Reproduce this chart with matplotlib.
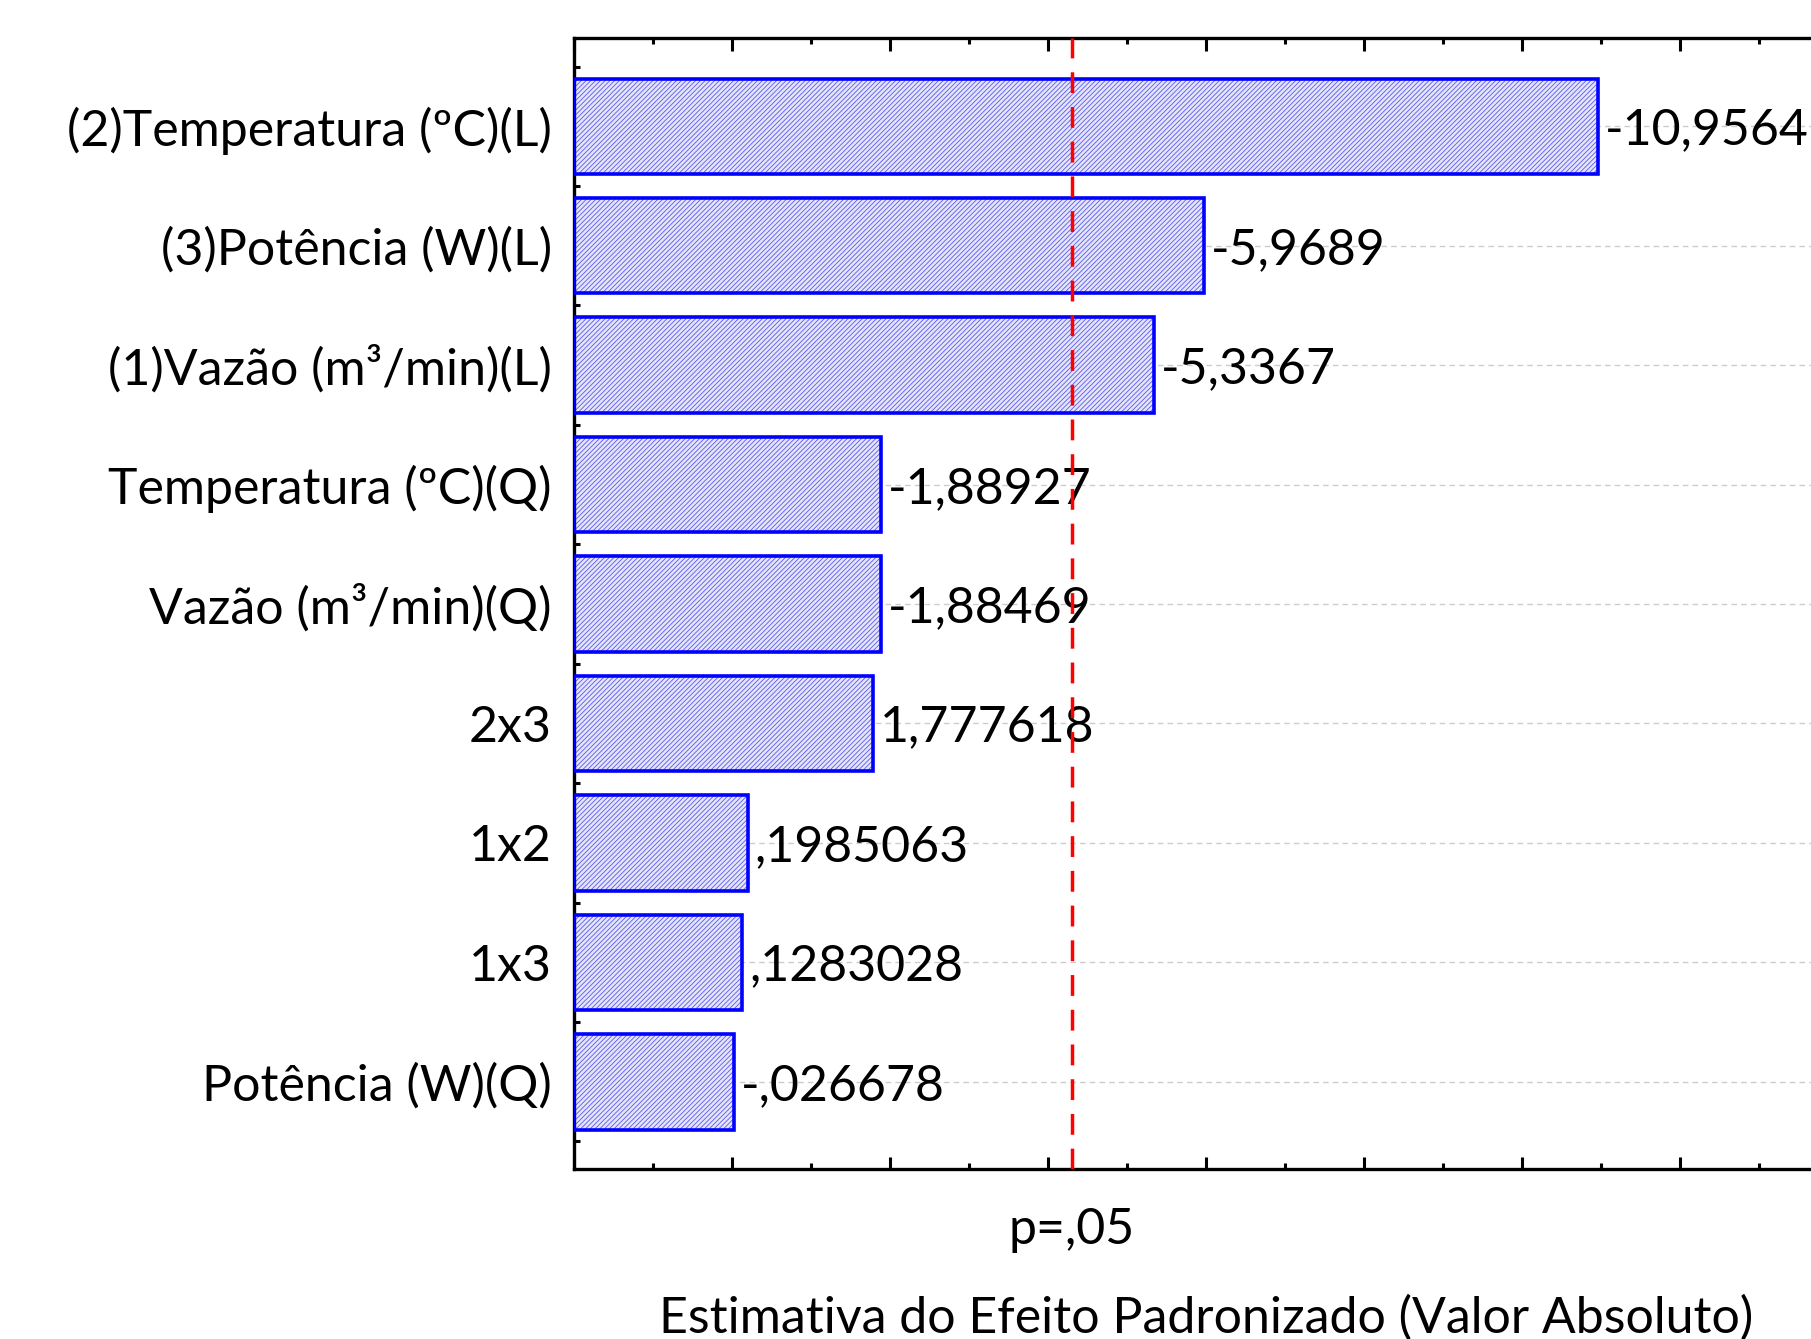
import matplotlib
matplotlib.use("Agg")
import matplotlib.pyplot as plt
from matplotlib.ticker import MultipleLocator, NullFormatter
from matplotlib.transforms import blended_transform_factory

# standardized effects, sorted by absolute value
factors = [
    "(2)Temperatura (ºC)(L)",
    "(3)Potência (W)(L)",
    "(1)Vazão (m³/min)(L)",
    "Temperatura (ºC)(Q)",
    "Vazão (m³/min)(Q)",
    "2x3",
    "1x2",
    "1x3",
    "Potência (W)(Q)",
]
effects = [-10.9564, -5.9689, -5.3367, -1.88927, -1.88469, 1.777618, 0.1985063, 0.1283028, -0.026678]
t_crit = 4.303  # p = .05
x_min = -2


def fmt(v):
    s = f"{v:.7g}"
    if abs(v) < 1:
        s = s.replace("0.", ".", 1)
    return s.replace(".", ",")


plt.rcParams['font.family'] = ['Lato', 'DejaVu Sans']
plt.rcParams['hatch.linewidth'] = 0.6
fs = 36

fig = plt.figure(figsize=(18.11, 13.39), dpi=100)
ax = fig.add_axes([0.317, 0.127, 0.698, 0.8447])

ypos = list(range(len(factors)))
widths = [abs(v) - x_min for v in effects]
ax.barh(ypos, widths, left=x_min, height=0.8, color='#e4e4fb',
        edgecolor='#5a5aee', hatch='///////', linewidth=0, zorder=2)
ax.barh(ypos, widths, left=x_min, height=0.8, fill=False,
        edgecolor='#0000ff', linewidth=2.6, zorder=3)

for y, v in zip(ypos, effects):
    ax.annotate(fmt(v), (abs(v), y), xytext=(5, -3), textcoords='offset points',
                va='center', ha='left', fontsize=fs)

ax.axvline(t_crit, color='red', lw=2.5, ls=(0, (6, 4)), zorder=4)
trans = blended_transform_factory(ax.transData, ax.transAxes)
ax.text(t_crit, -0.054, "p=,05", transform=trans, ha='center', va='center', fontsize=fs)

ax.set_xlim(x_min, 14)
ax.set_ylim(8.73, -0.74)
ax.xaxis.set_major_locator(MultipleLocator(2))
ax.xaxis.set_minor_locator(MultipleLocator(1))
ax.xaxis.set_major_formatter(NullFormatter())
ax.set_yticks(ypos, factors, fontsize=fs)
ax.yaxis.set_minor_locator(MultipleLocator(0.25))

ax.tick_params(axis='x', which='both', direction='in', top=True, bottom=True, width=2.2)
ax.tick_params(axis='x', which='major', length=9)
ax.tick_params(axis='x', which='minor', length=4)
ax.tick_params(axis='y', which='both', direction='in', length=4, width=2.2, pad=16)

ax.yaxis.grid(True, color='#cccccc', ls=(0, (4, 3)), lw=1)
ax.set_axisbelow(True)
for side in ['left', 'bottom', 'top']:
    ax.spines[side].set_linewidth(2.4)
ax.spines['right'].set_visible(False)

ax.set_xlabel("Estimativa do Efeito Padronizado (Valor Absoluto)", fontsize=fs)
ax.xaxis.set_label_coords(0.5, -0.111)

fig.savefig("out.png", dpi=100)
